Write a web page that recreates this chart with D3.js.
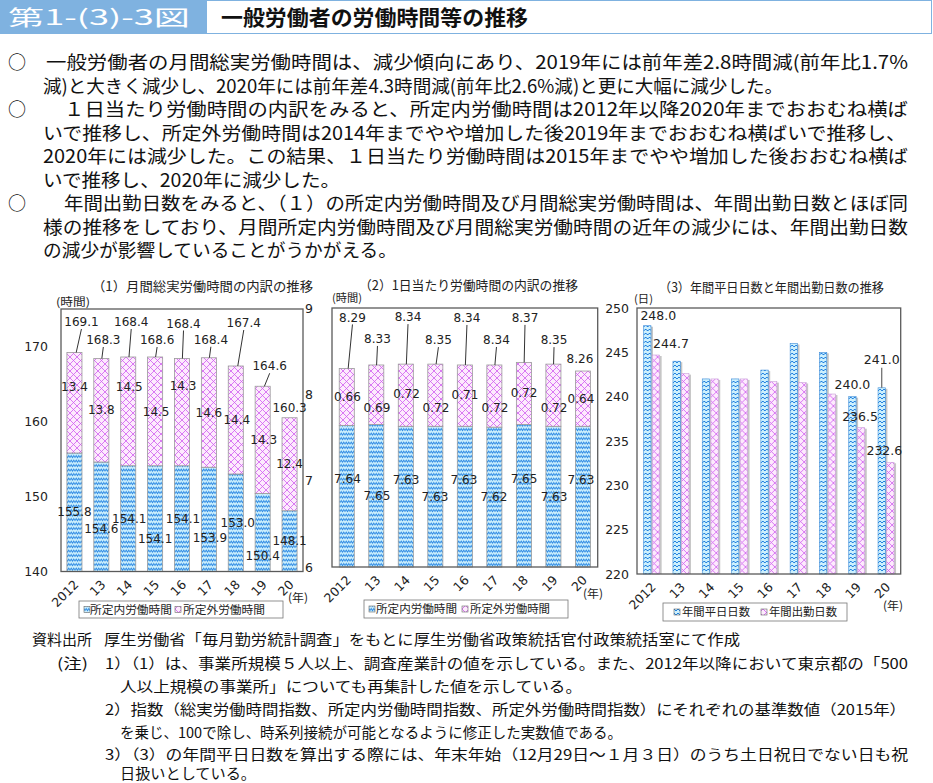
<!DOCTYPE html>
<html><head><meta charset="utf-8">
<script src="https://cdn.jsdelivr.net/npm/d3@7"></script>
<style>body{margin:0;background:#fff}svg{display:block}</style>
</head><body>
<svg id="c" width="933" height="783"></svg>
<script>
// ---------- DATA ----------
const years = ["2012","13","14","15","16","17","18","19","20"];
const monthlyScheduled = [155.8,154.6,154.1,154.1,154.1,153.9,153.0,150.4,148.1];
const monthlyOvertime  = [13.4,13.8,14.5,14.5,14.3,14.6,14.4,14.3,12.4];
const monthlyTotal     = [169.1,168.3,168.4,168.6,168.4,168.4,167.4,164.6,160.3];
const dailyScheduled   = [7.64,7.65,7.63,7.63,7.63,7.62,7.65,7.63,7.63];
const dailyOvertime    = [0.66,0.69,0.72,0.72,0.71,0.72,0.72,0.72,0.64];
const dailyTotal       = [8.29,8.33,8.34,8.35,8.34,8.34,8.37,8.35,8.26];
const weekdayDays      = [248.0,244.0,242.0,242.0,243.0,246.0,245.0,240.0,241.0];
const attendanceDays   = [244.7,242.6,242.0,242.0,241.7,241.6,240.3,236.5,232.6];
const monthlyTicks = [140,150,160,170];
const dailyTicks = [6,7,8,9];
const daysTicks = [220,225,230,235,240,245,250];
const seriesNamesHours = ["所定内労働時間","所定外労働時間"];
const seriesNamesDays = ["年間平日日数","年間出勤日数"];

const JP = '"Noto Sans CJK JP", sans-serif';
const NUM = '"DejaVu Sans", Verdana, sans-serif';
const svg = d3.select('#c');

// ---------- patterns ----------
const defs = svg.append('defs');
const pb = defs.append('pattern').attr('id','pBlue').attr('width',5).attr('height',4.5).attr('patternUnits','userSpaceOnUse');
pb.append('rect').attr('width',5).attr('height',4.5).attr('fill','#cdf0fd');
pb.append('path').attr('d','M0,3.2 L1.25,1.2 L2.5,3.2 L3.75,1.2 L5,3.2').attr('stroke','#2484e2').attr('stroke-width',0.95).attr('fill','none');
const pp = defs.append('pattern').attr('id','pPink').attr('width',7).attr('height',7).attr('patternUnits','userSpaceOnUse');
pp.append('rect').attr('width',7).attr('height',7).attr('fill','#fdeafd');
pp.append('path').attr('d','M0,0 L7,7 M7,0 L0,7').attr('stroke','#cf5cf0').attr('stroke-width',0.8);
const pb2 = defs.append('pattern').attr('id','pBlue2').attr('width',4).attr('height',4).attr('patternUnits','userSpaceOnUse');
pb2.append('rect').attr('width',4).attr('height',4).attr('fill','#cdf0fd');
pb2.append('path').attr('d','M0,3 L2,1 L4,3').attr('stroke','#2080e0').attr('stroke-width',1).attr('fill','none');

// ---------- header ----------
svg.append('rect').attr('x',0.5).attr('y',0.5).attr('width',931).attr('height',33).attr('fill','#fff').attr('stroke','#7fb2e0');
svg.append('rect').attr('x',0).attr('y',0).attr('width',207).attr('height',34).attr('fill','#7fb2e0');
svg.append('text').text('第1-(3)-3図').attr('x',8).attr('y',25).attr('fill','#fff')
  .attr('font-family',JP).attr('font-size',21).attr('textLength',182).attr('lengthAdjust','spacingAndGlyphs');
svg.append('text').text('一般労働者の労働時間等の推移').attr('x',221).attr('y',25).attr('fill','#111')
  .attr('font-family',JP).attr('font-weight','bold').attr('font-size',21).attr('textLength',307).attr('lengthAdjust','spacingAndGlyphs');

// ---------- paragraph ----------
const para = [
 {t:"一般労働者の月間総実労働時間は、減少傾向にあり、2019年には前年差2.8時間減(前年比1.7%", x:46, x2:908, b:true},
 {t:"減)と大きく減少し、2020年には前年差4.3時間減(前年比2.6%減)と更に大幅に減少した。", x:43, x2:783},
 {t:"１日当たり労働時間の内訳をみると、所定内労働時間は2012年以降2020年までおおむね横ば", x:64, x2:908, b:true},
 {t:"いで推移し、所定外労働時間は2014年までやや増加した後2019年までおおむね横ばいで推移し、", x:43, x2:906},
 {t:"2020年には減少した。この結果、１日当たり労働時間は2015年までやや増加した後おおむね横ば", x:43, x2:908},
 {t:"いで推移し、2020年に減少した。", x:43, x2:340},
 {t:"年間出勤日数をみると、（１）の所定内労働時間及び月間総実労働時間は、年間出勤日数とほぼ同", x:64, x2:908, b:true},
 {t:"様の推移をしており、月間所定内労働時間及び月間総実労働時間の近年の減少には、年間出勤日数", x:43, x2:908},
 {t:"の減少が影響していることがうかがえる。", x:43, x2:397}
];
para.forEach((p,i)=>{
  const yb = 69 + i*23.5;
  if(p.b) svg.append('text').text('○').attr('x',8).attr('y',yb).attr('font-family',JP).attr('font-size',18).attr('fill','#111');
  svg.append('text').text(p.t).attr('x',p.x).attr('y',yb).attr('font-family',JP).attr('font-size',18.5).attr('fill','#111')
    .attr('textLength',p.x2-p.x).attr('lengthAdjust','spacingAndGlyphs');
});

// ---------- helpers ----------
function addText(g,t,x,y,opt={}) {
  return g.append('text').text(t).attr('x',x).attr('y',y)
    .attr('font-family',opt.f||NUM).attr('font-size',opt.s||12).attr('fill',opt.c||'#222')
    .attr('text-anchor',opt.a||'start').attr('dy',opt.dy||null);
}
function legend(g,x0,y0,w,h,items,fills) {
  g.append('rect').attr('x',x0).attr('y',y0).attr('width',w).attr('height',h).attr('fill','#fff').attr('stroke','#777').attr('stroke-width',0.8);
  items.forEach((it,i)=>{
    g.append('rect').attr('x',it.sx).attr('y',y0+h/2-3).attr('width',6).attr('height',6).attr('fill',fills[i]).attr('stroke','#666').attr('stroke-width',0.6);
    g.append('text').text(it.t).attr('x',it.tx).attr('y',y0+h/2+4).attr('font-family',JP).attr('font-size',11.5).attr('fill','#222')
      .attr('textLength',it.tw).attr('lengthAdjust','spacingAndGlyphs');
  });
}
function xAxisRot(g,x,yBottom,half) {
  const ax = g.append('g').attr('transform',`translate(0,${yBottom})`).call(d3.axisBottom(x).tickSize(0));
  ax.select('.domain').remove();
  ax.selectAll('text').attr('font-family',NUM).attr('font-size',12.5).attr('fill','#222')
    .attr('y',null).attr('dy',null).attr('text-anchor','end')
    .attr('transform',`translate(5,14) rotate(-45)`);
}
function yAxis(g,y,xPos,pad,ticks) {
  const ax = g.append('g').attr('transform',`translate(${xPos},0)`)
    .call(d3.axisLeft(y).tickValues(ticks).tickFormat(d3.format('d')).tickSize(0).tickPadding(pad));
  ax.select('.domain').remove();
  ax.selectAll('text').attr('font-family',NUM).attr('font-size',12.5).attr('fill','#222');
}

// ---------- stacked chart ----------
function stacked(o) {
  const g = svg.append('g');
  const x = d3.scaleBand().domain(years).range([o.x0,o.x1]).paddingInner(o.pad).paddingOuter(o.pad/2);
  const y = d3.scaleLinear().domain(o.domain).range([o.yb,o.yt]);
  const rows = years.map((yr,i)=>({year:yr, sched:o.sched[i], over:o.over[i]}));
  const series = d3.stack().keys(['sched','over'])(rows);
  const cx = yr => x(yr)+x.bandwidth()/2;
  series.forEach((s,k)=>{
    g.selectAll(null).data(s).join('rect')
      .attr('x',d=>x(d.data.year)).attr('width',x.bandwidth())
      .attr('y',d=>y(d[1])).attr('height',d=>y(Math.max(d[0],o.domain[0]))-y(d[1]))
      .attr('fill',k===0?'url(#pBlue)':'url(#pPink)').attr('stroke','#9a9a9a').attr('stroke-width',0.8);
  });
  g.append('rect').attr('x',o.x0).attr('y',o.yt).attr('width',o.x1-o.x0).attr('height',o.yb-o.yt)
    .attr('fill','none').attr('stroke','#5a5a5a').attr('stroke-width',1.3);
  const fmt = d3.format(o.fmt);
  series[0].forEach((d,i)=>{
    const yy = (y(o.domain[0])+y(d[1]))/2 + o.sDy[i];
    addText(g,fmt(o.sched[i]),cx(d.data.year)+o.sDx[i],yy,{a:'middle',dy:'0.35em'});
  });
  series[1].forEach((d,i)=>{
    const yy = (y(d[0])+y(d[1]))/2 + o.oDy[i];
    addText(g,fmt(o.over[i]),cx(d.data.year)+o.oDx[i],yy,{a:'middle',dy:'0.35em'});
  });
  series[1].forEach((d,i)=>{
    const bx = cx(d.data.year), top = y(d[1]);
    const lx = bx + o.tDx[i], ly = top + o.tDy[i];
    addText(g,fmt(o.total[i]),lx,ly,{a:'middle',dy:'0.35em'});
    if (o.leader[i]) {
      g.append('line').attr('x1',lx).attr('y1',ly+7).attr('x2',bx+o.tDx[i]*0.25).attr('y2',top)
        .attr('stroke','#333').attr('stroke-width',1);
    }
  });
  yAxis(g,y,o.yAxisX,o.yPad,o.ticks);
  xAxisRot(g,x,o.yb);
  return g;
}

stacked({
  x0:61, x1:303, yt:309, yb:571.5, pad:0.44, domain:[140,175],
  sched:monthlyScheduled, over:monthlyOvertime, total:monthlyTotal, fmt:'.1f',
  sDx:[0,0,1,0,1,1,2,0,0], sDy:[0,12.5,0,20,0,18.5,0,23,0],
  oDx:[0,0,1,1,1,0,1,1,0], oDy:[-16,0,-25,0,-26,0,0,0,0],
  tDx:[7,2,3,2,1.5,2,8,7,0], tDy:[-30.5,-18.5,-35,-17,-35,-18,-43,-20,-10],
  leader:[1,1,1,1,1,1,1,1,0],
  ticks:monthlyTicks, yAxisX:61, yPad:13
});
stacked({
  x0:332, x1:597.7, yt:308, yb:567, pad:0.49, domain:[6,9],
  sched:dailyScheduled, over:dailyOvertime, total:dailyTotal, fmt:'.2f',
  sDx:[0.7,0.7,0.2,-0.4,-0.9,-0.4,0.1,0.6,-2], sDy:[-17,0,-17,0,-17,0,-17,0,-17],
  oDx:[0.7,0.7,0.7,0.6,0.1,0.6,0.1,0.6,-2], oDy:[0,13,-1,13,-1,12,-1,13,0],
  tDx:[5.7,1.2,2.2,3.1,2.1,2.1,1.1,0.6,-3], tDy:[-51,-26,-47,-24,-47,-25,-44.5,-24,-12],
  leader:[1,1,1,1,1,1,1,1,0],
  ticks:dailyTicks, yAxisX:332, yPad:19
});

function jpText(t,x,y,s,w){ return svg.append('text').text(t).attr('x',x).attr('y',y).attr('font-family',JP).attr('font-size',s).attr('fill','#222')
  .attr('textLength',w).attr('lengthAdjust','spacingAndGlyphs'); }
jpText('（1）月間総実労働時間の内訳の推移',92,291,13,221);
jpText('(時間)',56,306,11,34);
jpText('(年)',288,602,11.5,20);
legend(svg,79,601,204,17,[{sx:84,tx:90,tw:82,t:seriesNamesHours[0]},{sx:175,tx:183,tw:82,t:seriesNamesHours[1]}],['url(#pBlue)','url(#pPink)']);

jpText('（2）1日当たり労働時間の内訳の推移',359,290,13,219);
jpText('(時間)',332,302,11,30);
jpText('(年)',583,598,11.5,20);
legend(svg,364,600,204,18,[{sx:369,tx:376,tw:81,t:seriesNamesHours[0]},{sx:462,tx:470,tw:80,t:seriesNamesHours[1]}],['url(#pBlue)','url(#pPink)']);

// ---------- chart 3 (grouped) ----------
(function(){
  const g = svg.append('g');
  const X0=637, X1=900.7, YT=308, YB=574;
  const x0 = d3.scaleBand().domain(years).range([X0,X1]).paddingInner(0.454).paddingOuter(0.227);
  const keys = ['w','a'];
  const x1 = d3.scaleBand().domain(keys).range([0,x0.bandwidth()]).paddingInner(0.15);
  const y = d3.scaleLinear().domain([220,250]).range([YB,YT]);
  const rows = years.map((yr,i)=>({year:yr, w:weekdayDays[i], a:attendanceDays[i]}));
  const grp = g.selectAll(null).data(rows).join('g').attr('transform',d=>`translate(${x0(d.year)},0)`);
  keys.forEach(k=>{
    grp.append('rect').attr('x',x1(k)+2).attr('width',x1.bandwidth()).attr('y',d=>y(d[k])+1).attr('height',d=>YB-y(d[k])-1)
      .attr('fill','#c6c6c6');
    grp.append('rect').attr('x',x1(k)).attr('width',x1.bandwidth()).attr('y',d=>y(d[k])).attr('height',d=>YB-y(d[k]))
      .attr('fill',k==='w'?'url(#pBlue2)':'url(#pPink)').attr('stroke',k==='w'?'#3a8ad8':'#c8a0d8').attr('stroke-width',0.6);
  });
  g.append('rect').attr('x',X0).attr('y',YT).attr('width',X1-X0).attr('height',YB-YT)
    .attr('fill','none').attr('stroke','#5a5a5a').attr('stroke-width',1.3);
  const fmt = d3.format('.1f');
  const labelIdx = [0,7,8];
  const lw = {0:[11,-10],7:[0,-12],8:[0,-28]};
  const la = {0:[15,-11.5],7:[-1,-11.5],8:[-6,-12]};
  labelIdx.forEach(i=>{
    const d = rows[i];
    const bxw = x0(d.year)+x1('w')+x1.bandwidth()/2, tw = y(d.w);
    const bxa = x0(d.year)+x1('a')+x1.bandwidth()/2, ta = y(d.a);
    addText(g,fmt(d.w),bxw+lw[i][0],tw+lw[i][1],{a:'middle',dy:'0.35em',s:12.5});
    addText(g,fmt(d.a),bxa+la[i][0],ta+la[i][1],{a:'middle',dy:'0.35em',s:12.5});
    if (i===8) g.append('line').attr('x1',bxw).attr('x2',bxw).attr('y1',tw+lw[i][1]+8).attr('y2',tw).attr('stroke','#666').attr('stroke-width',1.2);
  });
  yAxis(g,y,X0,8,daysTicks);
  xAxisRot(g,x0,YB);
})();
jpText('（3）年間平日日数と年間出勤日数の推移',659,292,13,225);
jpText('(日)',634,303,11,19);
jpText('(年)',883,610,11.5,20);
legend(svg,663,603,184,18,[{sx:674,tx:682,tw:68,t:seriesNamesDays[0]},{sx:761,tx:769,tw:68,t:seriesNamesDays[1]}],['url(#pBlue2)','url(#pPink)']);

// ---------- notes ----------
const notes = [
 {t:"資料出所",x:32,x2:92,y:645},
 {t:"厚生労働省「毎月勤労統計調査」をもとに厚生労働省政策統括官付政策統括室にて作成",x:104,x2:740,y:645},
 {t:"(注)",x:57,x2:88,y:669},
 {t:"1）（1）は、事業所規模５人以上、調査産業計の値を示している。また、2012年以降において東京都の「500",x:105,x2:908,y:669},
 {t:"人以上規模の事業所」についても再集計した値を示している。",x:120,x2:582,y:692},
 {t:"2）指数（総実労働時間指数、所定内労働時間指数、所定外労働時間指数）にそれぞれの基準数値（2015年）",x:105,x2:906,y:715},
 {t:"を乗じ、100で除し、時系列接続が可能となるように修正した実数値である。",x:120,x2:622,y:738},
 {t:"3）（3）の年間平日日数を算出する際には、年末年始（12月29日～１月３日）のうち土日祝日でない日も祝",x:105,x2:908,y:760},
 {t:"日扱いとしている。",x:120,x2:256,y:779}
];
notes.forEach(n=>{
  svg.append('text').text(n.t).attr('x',n.x).attr('y',n.y).attr('font-family',JP).attr('font-size',14.5).attr('fill','#111')
    .attr('textLength',n.x2-n.x).attr('lengthAdjust','spacingAndGlyphs');
});
</script>
</body></html>
